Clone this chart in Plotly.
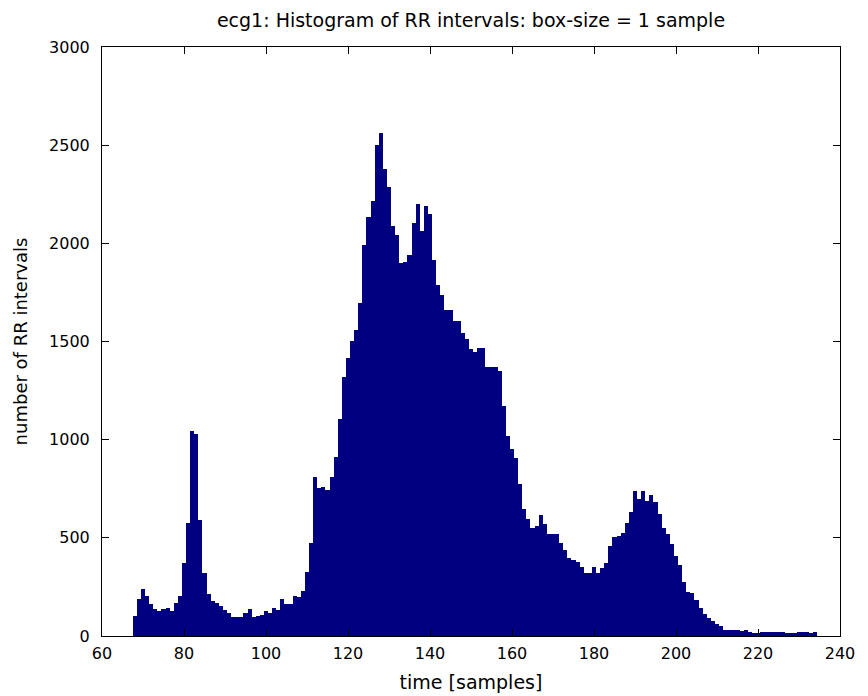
import plotly.graph_objects as go

# bin centres (samples) and counts
start_sample = 68
counts = [
    102, 187, 239, 204, 163, 136, 129, 139, 143, 129,   # 68-77
    170, 204, 374, 574, 1046, 1029, 591, 323, 214, 180,  # 78-87
    170, 153, 132, 115, 98, 95, 95, 115, 136, 95,        # 88-97
    102, 105, 126, 115, 143, 132, 187, 163, 163, 204,    # 98-107
    200, 231, 327, 475, 810, 754, 757, 742, 810, 913,    # 108-117
    1107, 1320, 1414, 1502, 1561, 1694, 1991, 2132, 2217, 2503,  # 118-127
    2561, 2377, 2289, 2089, 2043, 1898, 1905, 1940, 2104, 2200,  # 128-137
    2065, 2191, 2148, 1913, 1789, 1739, 1661, 1660, 1602, 1606,  # 138-147
    1545, 1511, 1460, 1445, 1465, 1465, 1372, 1370, 1368, 1351,  # 148-157
    1170, 1019, 951, 905, 772, 645, 594, 552, 558, 616,  # 158-167
    573, 520, 520, 520, 475, 437, 398, 387, 378, 350,    # 168-177
    319, 323, 353, 319, 345, 372, 456, 505, 511, 525,    # 178-187
    575, 634, 740, 700, 740, 690, 720, 680, 620, 548,    # 188-197
    518, 470, 408, 364, 277, 226, 221, 182, 144, 112,    # 198-207
    90, 76, 63, 49, 31, 31, 31, 31, 27, 31,              # 208-217
    22, 17, 17, 20, 22, 22, 22, 22, 22, 17,              # 218-227
    14, 14, 22, 22, 22, 17, 22,                          # 228-234
]
samples = [start_sample + i for i in range(len(counts))]

x_ticks = [60, 80, 100, 120, 140, 160, 180, 200, 220, 240]
y_ticks = [0, 500, 1000, 1500, 2000, 2500, 3000]

title_text = "ecg1: Histogram of RR intervals: box-size = 1 sample"
x_label = "time [samples]"
y_label = "number of RR intervals"

fig = go.Figure(
    go.Bar(
        x=samples,
        y=counts,
        width=1,
        marker=dict(color="#000080", line=dict(width=0)),
    )
)

font_family = "DejaVu Sans, Arial, sans-serif"

fig.update_layout(
    width=868,
    height=696,
    margin=dict(l=102, r=28, t=47, b=60),
    paper_bgcolor="white",
    plot_bgcolor="white",
    showlegend=False,
    bargap=0,
    font=dict(family=font_family, size=16, color="black"),
    title=dict(
        text=title_text,
        x=0.5 * (102 + 840) / 868,
        xanchor="center",
        y=1 - 20 / 696,
        yanchor="middle",
        font=dict(size=19, color="black"),
    ),
)

fig.update_xaxes(
    range=[60, 240],
    tickvals=x_ticks,
    ticktext=[str(v) for v in x_ticks],
    ticks="inside",
    ticklen=7,
    tickcolor="black",
    showline=True,
    linecolor="black",
    linewidth=1,
    mirror="ticks",
    showgrid=False,
    zeroline=False,
    automargin=False,
    ticklabelstandoff=3,
    tickfont=dict(size=16, color="black"),
    title=dict(text=x_label, font=dict(size=19, color="black"), standoff=13),
)
fig.update_yaxes(
    range=[0, 3000],
    tickvals=y_ticks,
    ticktext=[str(v) for v in y_ticks],
    ticks="inside",
    ticklen=7,
    tickcolor="black",
    showline=True,
    linecolor="black",
    linewidth=1,
    mirror="ticks",
    showgrid=False,
    zeroline=False,
    automargin=False,
    ticklabelstandoff=8,
    tickfont=dict(size=16, color="black"),
    title=dict(text=y_label, font=dict(size=18, color="black"), standoff=16),
)

fig.write_html("out.html")
